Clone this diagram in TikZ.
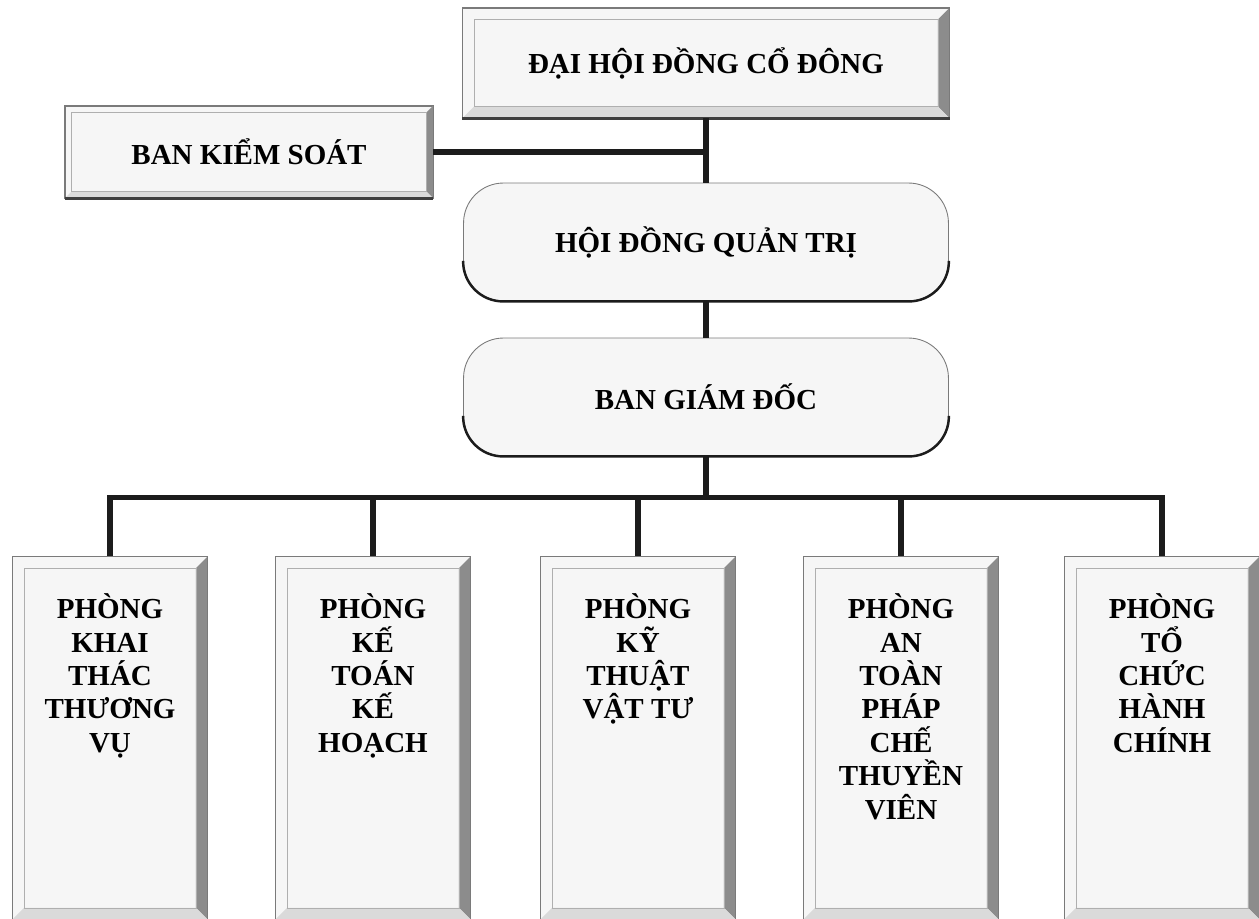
\documentclass[tikz,border=0pt]{standalone}
\usepackage{fontspec}
\setmainfont{Liberation Serif}
\usetikzlibrary{positioning}
\definecolor{orgLine}{HTML}{1C1C1C}
\definecolor{orgEdge}{HTML}{7A7A7A}
\definecolor{orgRim}{HTML}{8C8C8C}
\definecolor{orgRimLight}{HTML}{DADADA}
\definecolor{orgFill}{HTML}{F6F6F6}
\newcommand{\bevel}[2]{%
  \fill[orgRim] (#1.north east) -- (#1.south east) -- ([shift={(-#2,#2)}]#1.south east)
    -- ([shift={(-#2,-#2)}]#1.north east) -- cycle;
  \fill[orgRimLight] (#1.south west) -- (#1.south east) -- ([shift={(-#2,#2)}]#1.south east)
    -- ([shift={(#2,#2)}]#1.south west) -- cycle;
  \draw[orgEdge!60, line width=0.4pt] ([shift={(#2,#2)}]#1.south west) rectangle ([shift={(-#2,-#2)}]#1.north east);
  \draw[orgEdge, line width=0.5pt] (#1.south west) rectangle (#1.north east);
  \draw[orgLine!85, line width=1.3pt] (#1.south west) -- (#1.south east);
}
\newcommand{\rimline}[2]{%
  \draw[orgLine, line width=1.4pt, rounded corners=0.8cm] ([yshift=-#2]#1.west) -- (#1.south west)
    -- (#1.south east) -- ([yshift=-#2]#1.east);
}

\begin{document}
\begin{tikzpicture}[
  x=0.02cm, y=0.02cm,
  font=\fontsize{16.5}{19}\selectfont\bfseries,
  box/.style={draw=orgEdge, fill=orgFill, line width=0.5pt, align=center, inner sep=0pt},
  flat/.style={box, minimum height=2.2cm},
  pill/.style={box, rounded corners=0.8cm, minimum width=9.7cm, minimum height=2.36cm},
  dept/.style={box, minimum width=3.9cm, minimum height=7.26cm},
  dtext/.style={align=center, inner sep=0pt},
  link/.style={draw=orgLine, line width=3.2pt},
]
\useasboundingbox (0,0) rectangle (1259,-919);

\node[flat, minimum width=9.74cm] (dhd) at (706,-63) {ĐẠI HỘI ĐỒNG CỔ ĐÔNG};
\node[flat, minimum width=7.36cm, minimum height=1.84cm] (bks) at (249,-152) {BAN KIỂM SOÁT};
\node[pill] (hdqt) at (706,-242) {HỘI ĐỒNG QUẢN TRỊ};
\node[pill] (bgd) at (706,-397) {BAN GIÁM ĐỐC};

\bevel{dhd}{0.24cm}
\bevel{bks}{0.14cm}
\rimline{hdqt}{0.38cm}
\rimline{bgd}{0.38cm}

\node[dept] (p1) at (110,-738) {};
\node[dept] (p2) at (373,-738) {};
\node[dept] (p3) at (638,-738) {};
\node[dept] (p4) at (901,-738) {};
\node[dept] (p5) at (1162,-738) {};
\foreach \n in {p1,p2,p3,p4,p5} {\bevel{\n}{0.24cm}}

\node[dtext, below=7.5mm of p1.north] (p1t) {PHÒNG\\KHAI\\THÁC\\THƯƠNG\\VỤ};
\node[dtext, below=7.5mm of p2.north] (p2t) {PHÒNG\\KẾ\\TOÁN\\KẾ\\HOẠCH};
\node[dtext, below=7.5mm of p3.north] (p3t) {PHÒNG\\KỸ\\THUẬT\\VẬT TƯ};
\node[dtext, below=7.5mm of p4.north] (p4t) {PHÒNG\\AN\\TOÀN\\PHÁP\\CHẾ\\THUYỀN\\VIÊN};
\node[dtext, below=7.5mm of p5.north] (p5t) {PHÒNG\\TỔ\\CHỨC\\HÀNH\\CHÍNH};

\coordinate (bus) at ([yshift=-0.82cm]bgd.south);
\draw[link] (dhd.south) -- (hdqt.north);
\draw[link] (bks.east) -- (bks.east -| dhd.south);
\draw[link] (hdqt.south) -- (bgd.north);
\draw[link] (bgd.south) -- (bus);
\foreach \n in {p1,p2,p3,p4,p5} {\draw[link] (bus) -| (\n.north);}
\end{tikzpicture}
\end{document}
